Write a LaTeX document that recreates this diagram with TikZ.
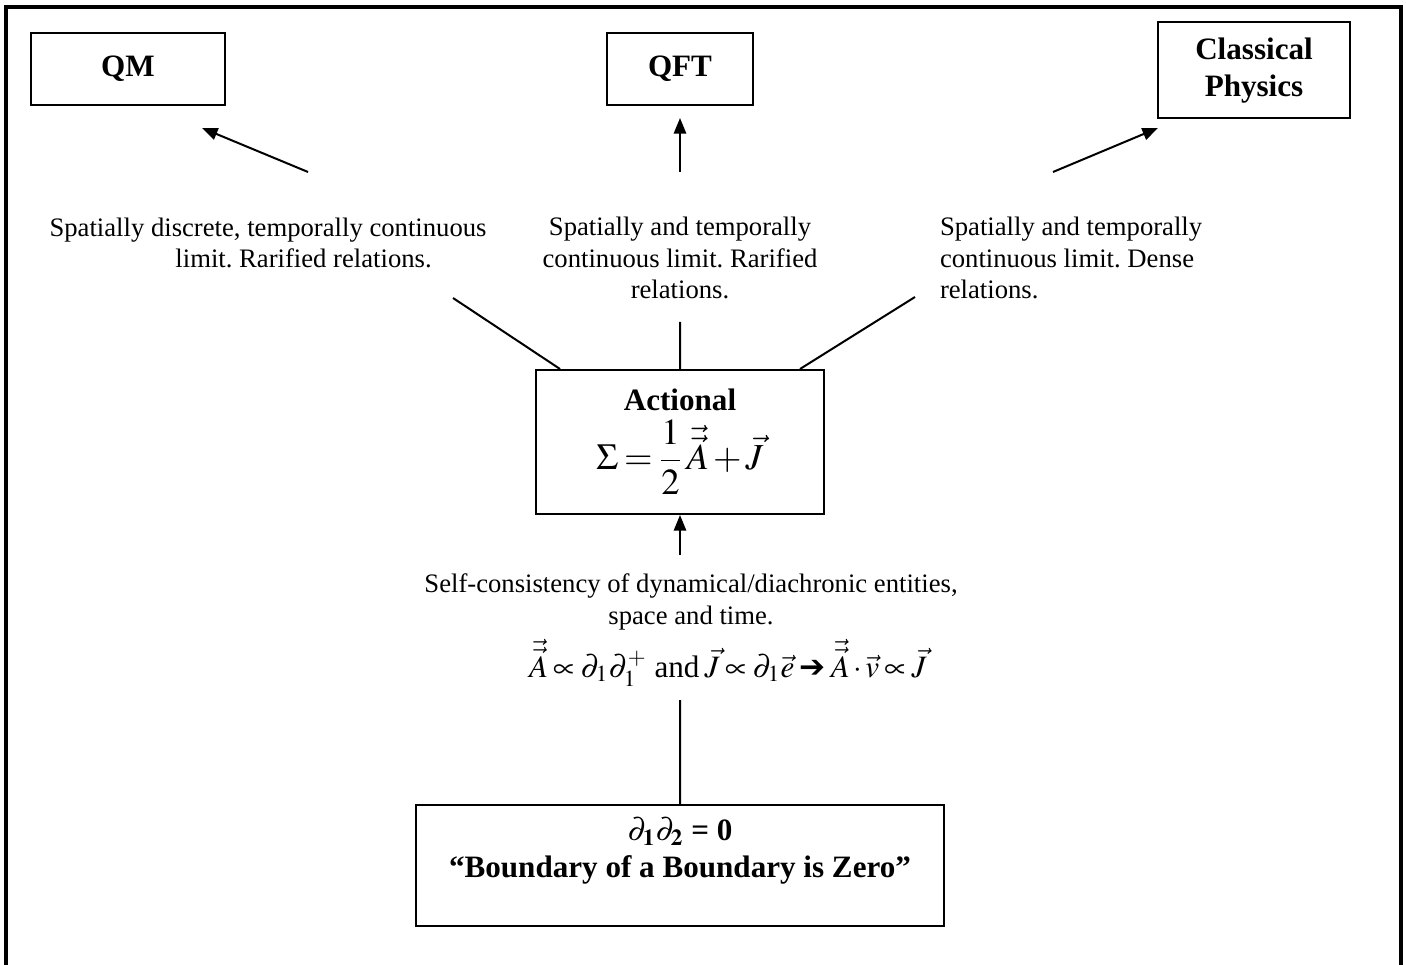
\documentclass[tikz,border=0pt]{standalone}
\usepackage{amsmath}
\usepackage{mathptmx}
\usepackage{fontspec}
\setmainfont{Liberation Serif}
\newfontfamily\arrowfont{DejaVu Sans}
\usetikzlibrary{arrows.meta, positioning}
\frenchspacing
\medmuskip=2mu
\thickmuskip=3mu

\begin{document}
\begin{tikzpicture}[
x=0.45pt, y=-0.45pt,
line width=0.9pt,
box/.style={
draw,
rectangle,
inner sep=0 pt,
align=center,
font=\fontsize{14}{16.5}\selectfont\bfseries,
},
note/.style={
align=center,
inner sep=0 pt,
font=\fontsize{12}{14}\selectfont,
},
headline/.style={-{Triangle[length=7pt, width=5.5pt]}},
]
\useasboundingbox (0,0) rectangle (1406,965);

% frame, open at the bottom
\draw[line width=1.6pt] (6,965) -- (6,7) -- (1401,7) -- (1401,965);

% limits
\node[box, minimum width=86.9pt, minimum height=32.4pt] at (128,69) (qm) {QM};
\node[box, minimum width=65.3pt, minimum height=32pt] at (680,69) (qft) {QFT};
\node[box, minimum width=86.4pt, minimum height=43.2pt] at (1254,70.5) (cp)
{Classical\\Physics};

% actional and boundary
\node[box, minimum width=129.6pt, minimum height=64.8pt] at (680,442) (act)
{Actional\\[3pt] \fontsize{16.5}{18}\selectfont
$\displaystyle \Sigma=\frac{1}{2}\,\vec{\vec{A}}+\vec{J}$};
\node[box, minimum width=237.6pt, minimum height=54.5pt] at (680,865.5) (bnd)
{$\partial_{\mathbf{1}}\partial_{\mathbf{2}}$ = 0\\``Boundary of a Boundary is Zero''\\ \mbox{}};

% texts on the connectors
\node[note] at (268,243) (qmtext)
{Spatially discrete, temporally continuous\\\hspace*{32pt}limit. Rarified relations.};
\node[note] at (680,258) (qfttext)
{Spatially and temporally\\continuous limit. Rarified\\relations.};
\node[note, align=left, anchor=west] at (939,258) (cptext)
{Spatially and temporally\\continuous limit. Dense\\relations.};
\node[note] at (691,602) (selftext)
{Self-consistency of dynamical/diachronic entities,\\space and time.};
\node[note, font=\fontsize{14}{16}\selectfont] at (728,663) (law)
{$\vec{\vec{A}}\propto\partial_1\partial_1^{+}$\ and\,$\vec{J}\propto\partial_1\vec{e}$\,{\arrowfont\bfseries ➔}\,$\vec{\vec{A}}\cdot\vec{v}\propto\vec{J}$};

\path
% free ends of the connectors
(202,128) coordinate(qmend)
(308,172) coordinate(qmtop)
(453,298) coordinate(qmfoot)
(680,118) coordinate(qftend)
(680,172) coordinate(qfttop)
(680,322) coordinate(qftfoot)
(1158,128) coordinate(cpend)
(1053,172) coordinate(cptop)
(915,297) coordinate(cpfoot)
(680,555) coordinate(selftop)
(680,700) coordinate(lawfoot)
;

% connectors
\draw
([xshift=-54pt]act.north) -- (qmfoot)
(act.north) -- (qftfoot)
([xshift=54pt]act.north) -- (cpfoot)
(bnd.north) -- (lawfoot)
;

\draw[headline] (qmtop) -- (qmend);
\draw[headline] (qfttop) -- (qftend);
\draw[headline] (cptop) -- (cpend);
\draw[headline] (selftop) -- (act.south);

\end{tikzpicture}
\end{document}
